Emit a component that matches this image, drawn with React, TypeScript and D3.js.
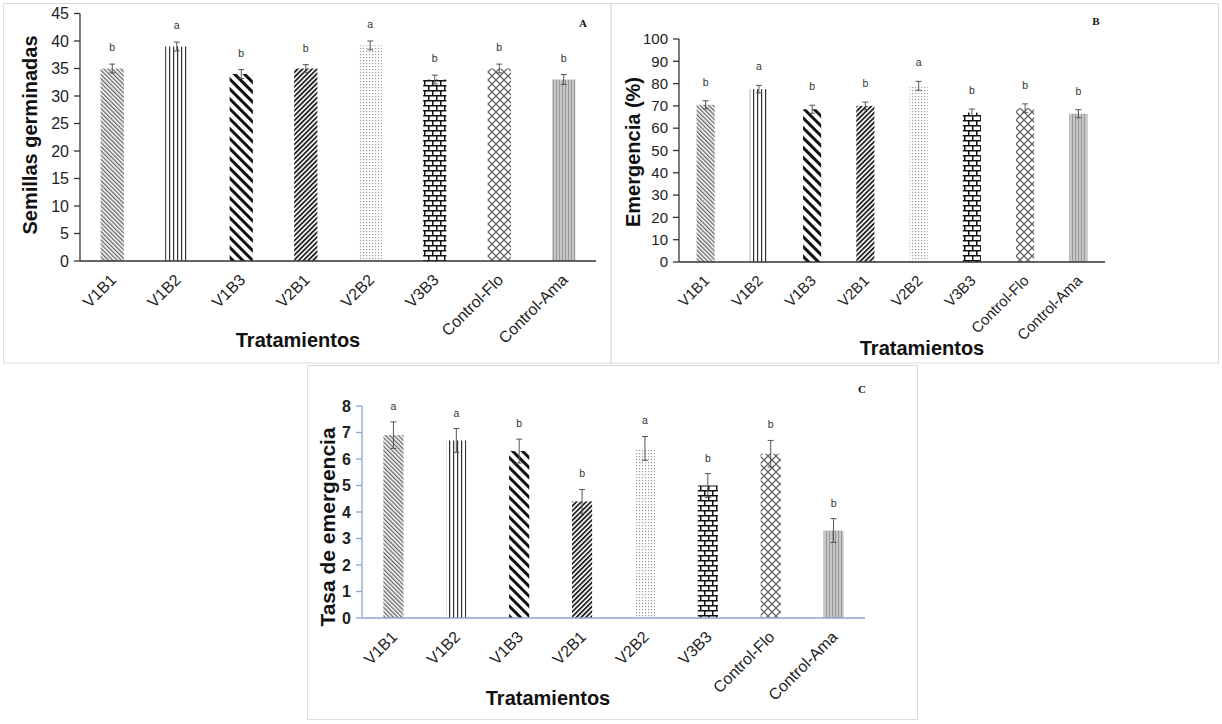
import * as d3 from 'd3';

const categories = ['V1B1', 'V1B2', 'V1B3', 'V2B1', 'V2B2', 'V3B3', 'Control-Flo', 'Control-Ama'];

const semillas = [35, 39, 34, 35, 39.2, 33, 35, 33];
const semillasErr = [0.8, 0.8, 0.8, 0.7, 0.8, 0.8, 0.8, 0.9];
const semillasLetters = ['b', 'a', 'b', 'b', 'a', 'b', 'b', 'b'];
const semillasTicks = [0, 5, 10, 15, 20, 25, 30, 35, 40, 45];

const emergencia = [70.5, 77.5, 68.5, 70, 79, 67, 69, 66.5];
const emergenciaErr = [1.8, 1.7, 1.8, 1.7, 2.0, 1.6, 1.9, 1.8];
const emergenciaLetters = ['b', 'a', 'b', 'b', 'a', 'b', 'b', 'b'];
const emergenciaTicks = [0, 10, 20, 30, 40, 50, 60, 70, 80, 90, 100];

const tasa = [6.9, 6.7, 6.3, 4.4, 6.4, 5.0, 6.2, 3.3];
const tasaErr = [0.5, 0.45, 0.45, 0.45, 0.45, 0.45, 0.5, 0.45];
const tasaLetters = ['a', 'a', 'b', 'b', 'a', 'b', 'b', 'b'];
const tasaTicks = [0, 1, 2, 3, 4, 5, 6, 7, 8];

const patterns = ['p1', 'p2', 'p3', 'p4', 'p5', 'p6', 'p7', 'p8'];

const sans = 'Arial, "Liberation Sans", Helvetica, sans-serif';
const serif = '"Times New Roman", "Liberation Serif", serif';

interface PanelProps {
  values: number[];
  errs: number[];
  letters: string[];
  ticks: number[];
  left: number;
  right: number;
  top: number;
  bottom: number;
  barFrac: number;
  axisColor: string;
  tickSize: number;
  tickBold?: boolean;
  catSize: number;
  yTitle: string;
  yTitleX: number;
  yTitleY: number;
  yTitleSize: number;
  xTitleX: number;
  xTitleY: number;
  xTitleSize: number;
  label: string;
  labelX: number;
  labelY: number;
  letterGap: number;
}

const Panel = (p: PanelProps) => {
  const x = d3.scaleBand().domain(categories).range([p.left, p.right]);
  const y = d3.scaleLinear().domain([0, p.ticks[p.ticks.length - 1]]).range([p.bottom, p.top]);
  const bw = x.bandwidth() * p.barFrac;

  return (
    <g>
      {categories.map((c, i) => {
        const cx = (x(c) || 0) + x.bandwidth() / 2;
        const v = p.values[i];
        const e = p.errs[i];
        return (
          <g key={c}>
            <rect x={cx - bw / 2} y={y(v)} width={bw} height={p.bottom - y(v)} fill={`url(#${patterns[i]})`} />
            <line x1={cx} x2={cx} y1={y(v + e)} y2={y(v - e)} stroke="#555" strokeWidth={1} />
            <line x1={cx - 3} x2={cx + 3} y1={y(v + e)} y2={y(v + e)} stroke="#555" strokeWidth={1} />
            <line x1={cx - 3} x2={cx + 3} y1={y(v - e)} y2={y(v - e)} stroke="#555" strokeWidth={1} />
            <text x={cx} y={y(v + e) - p.letterGap} textAnchor="middle" fontSize={10.5} fontFamily={sans} fill="#333">
              {p.letters[i]}
            </text>
            <text
              transform={`translate(${cx + 1},${p.bottom + 16}) rotate(-45)`}
              textAnchor="end"
              dy="0.35em"
              fontSize={p.catSize}
              fontFamily={sans}
              fill="#222"
            >
              {c}
            </text>
          </g>
        );
      })}

      <line x1={p.left} x2={p.left} y1={y(p.ticks[p.ticks.length - 1])} y2={p.bottom} stroke={p.axisColor} strokeWidth={1.3} />
      <line x1={p.left} x2={p.right} y1={p.bottom} y2={p.bottom} stroke={p.axisColor} strokeWidth={1.5} />
      {p.ticks.map(t => (
        <g key={t}>
          <line x1={p.left - 6} x2={p.left} y1={y(t)} y2={y(t)} stroke={p.axisColor} strokeWidth={1.3} />
          <text
            x={p.left - 11}
            y={y(t)}
            dy="0.35em"
            textAnchor="end"
            fontSize={p.tickSize}
            fontWeight={p.tickBold ? 'bold' : 'normal'}
            fontFamily={sans}
            fill="#222"
          >
            {t}
          </text>
        </g>
      ))}

      <text
        transform={`translate(${p.yTitleX},${p.yTitleY}) rotate(-90)`}
        textAnchor="middle"
        dy="0.35em"
        fontSize={p.yTitleSize}
        fontWeight="bold"
        fontFamily={sans}
        fill="#111"
      >
        {p.yTitle}
      </text>
      <text x={p.xTitleX} y={p.xTitleY} textAnchor="middle" dy="0.35em" fontSize={p.xTitleSize} fontWeight="bold" fontFamily={sans} fill="#111">
        Tratamientos
      </text>
      <text x={p.labelX} y={p.labelY} textAnchor="middle" dy="0.35em" fontSize={11} fontWeight="bold" fontFamily={serif} fill="#111">
        {p.label}
      </text>
    </g>
  );
};

const Patterns = () => (
  <defs>
    <pattern id="p1" width={3} height={3} patternUnits="userSpaceOnUse" patternTransform="rotate(-45)">
      <rect width={3} height={3} fill="#fff" />
      <rect width={1.4} height={3} fill="#6a6a6a" />
    </pattern>
    <pattern id="p2" width={4} height={4} patternUnits="userSpaceOnUse">
      <rect width={4} height={4} fill="#fff" />
      <rect x={1} width={1.2} height={4} fill="#333" />
    </pattern>
    <pattern id="p3" width={7} height={7} patternUnits="userSpaceOnUse" patternTransform="rotate(-45)">
      <rect width={7} height={7} fill="#fff" />
      <rect width={3} height={7} fill="#111" />
    </pattern>
    <pattern id="p4" width={3.4} height={3.4} patternUnits="userSpaceOnUse" patternTransform="rotate(45)">
      <rect width={3.4} height={3.4} fill="#fff" />
      <rect width={1.8} height={3.4} fill="#222" />
    </pattern>
    <pattern id="p5" width={3} height={3} patternUnits="userSpaceOnUse">
      <rect width={3} height={3} fill="#fff" />
      <rect width={1.2} height={1.2} fill="#9a9a9a" />
    </pattern>
    <pattern id="p6" width={8} height={10} patternUnits="userSpaceOnUse">
      <rect width={8} height={10} fill="#fff" />
      <rect y={0} width={8} height={1.5} fill="#111" />
      <rect y={5} width={8} height={1.5} fill="#111" />
      <rect x={0} y={0} width={1.5} height={5} fill="#111" />
      <rect x={4} y={5} width={1.5} height={5} fill="#111" />
    </pattern>
    <pattern id="p7" width={8} height={8} patternUnits="userSpaceOnUse">
      <rect width={8} height={8} fill="#fff" />
      <path d="M0,0 L8,8 M8,0 L0,8" stroke="#666" strokeWidth={1.3} />
    </pattern>
    <pattern id="p8" width={3} height={3} patternUnits="userSpaceOnUse">
      <rect width={3} height={3} fill="#c6c6c6" />
      <rect x={1} width={1} height={3} fill="#999" />
    </pattern>
  </defs>
);

export default function App() {
  return (
    <div style={{ position: 'absolute', left: 0, top: 0 }}>
      <svg width={1222} height={724} style={{ display: 'block', background: '#fff' }}>
        <Patterns />
        <rect x={3.5} y={3.5} width={607.5} height={359.5} fill="none" stroke="#dcdcdc" />
        <rect x={611} y={3.5} width={607.5} height={359.5} fill="none" stroke="#dcdcdc" />
        <rect x={307.5} y={365.5} width={610} height={354} fill="none" stroke="#dcdcdc" />

        <Panel
          values={semillas}
          errs={semillasErr}
          letters={semillasLetters}
          ticks={semillasTicks}
          left={80}
          right={596}
          top={13.5}
          bottom={261}
          barFrac={0.36}
          axisColor="#333"
          tickSize={16}
          catSize={16}
          yTitle="Semillas germinadas"
          yTitleX={30}
          yTitleY={135}
          yTitleSize={20}
          xTitleX={298}
          xTitleY={340}
          xTitleSize={20}
          label="A"
          labelX={583}
          labelY={23}
          letterGap={13}
        />
        <Panel
          values={emergencia}
          errs={emergenciaErr}
          letters={emergenciaLetters}
          ticks={emergenciaTicks}
          left={679}
          right={1105}
          top={39}
          bottom={262}
          barFrac={0.34}
          axisColor="#333"
          tickSize={15}
          catSize={15}
          yTitle="Emergencia (%)"
          yTitleX={633}
          yTitleY={152}
          yTitleSize={20}
          xTitleX={922}
          xTitleY={348}
          xTitleSize={20}
          label="B"
          labelX={1096}
          labelY={21}
          letterGap={15}
        />
        <Panel
          values={tasa}
          errs={tasaErr}
          letters={tasaLetters}
          ticks={tasaTicks}
          left={362}
          right={865}
          top={406}
          bottom={618}
          barFrac={0.32}
          axisColor="#8ba6d4"
          tickSize={16}
          tickBold
          catSize={16}
          yTitle="Tasa de emergencia"
          yTitleX={328}
          yTitleY={527}
          yTitleSize={21}
          xTitleX={548}
          xTitleY={698}
          xTitleSize={20}
          label="C"
          labelX={862}
          labelY={389}
          letterGap={12}
        />
      </svg>
    </div>
  );
}
